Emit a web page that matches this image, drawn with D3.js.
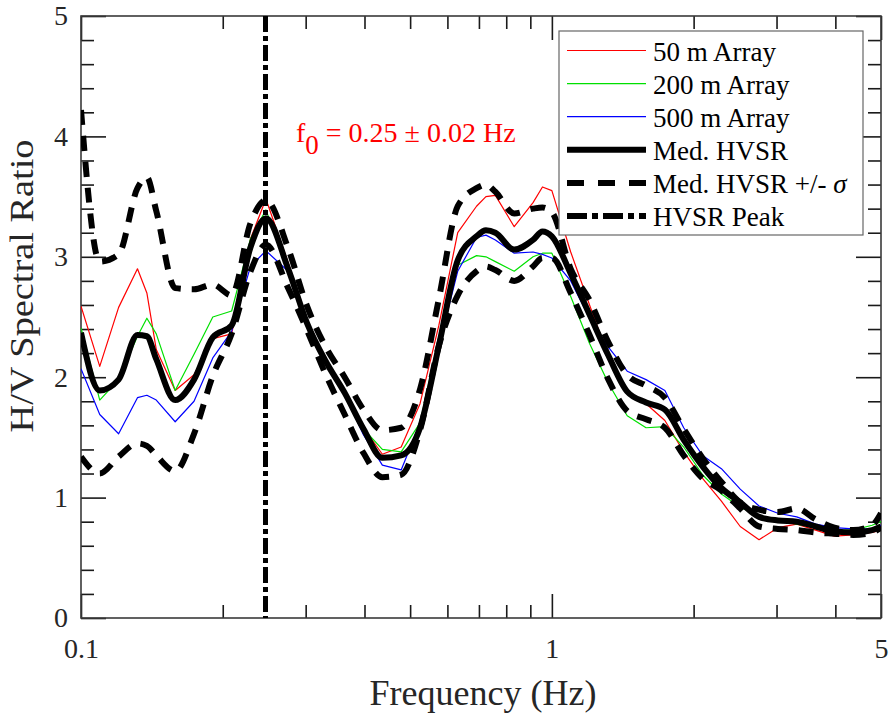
<!DOCTYPE html>
<html><head><meta charset="utf-8">
<script src="https://cdn.jsdelivr.net/npm/d3@7"></script>
<style>body{margin:0;background:#fff}svg{display:block}text{font-family:"Liberation Serif","Times New Roman",serif}</style>
</head><body><svg id="c" width="889" height="713"></svg>
<script>
// ---- data ----
const freq = [0.1,0.1096,0.1202,0.1318,0.1380,0.1445,0.1585,0.1738,0.1905,0.2089,0.2291,0.247,0.2754,0.3020,0.3311,0.3631,0.3981,0.4365,0.4786,0.5248,0.5754,0.6310,0.6918,0.7244,0.7586,0.8318,0.9120,0.955,1.0,1.0965,1.2023,1.3183,1.4454,1.5849,1.7378,1.9055,2.0893,2.2909,2.5119,2.7542,3.0200,3.3113,3.6308,3.9811,4.3652,4.7863,5.0];
const array50  = [2.59,2.09,2.58,2.90,2.70,2.23,1.89,2.02,2.32,2.36,3.15,3.48,2.95,2.48,2.14,1.87,1.58,1.36,1.42,1.78,2.43,3.20,3.42,3.50,3.51,3.25,3.45,3.58,3.55,3.04,2.60,2.17,1.88,1.78,1.64,1.38,1.16,0.97,0.76,0.65,0.75,0.78,0.73,0.68,0.69,0.71,0.73];
const array200 = [2.41,1.81,1.98,2.34,2.49,2.36,1.89,2.19,2.50,2.55,3.15,3.39,2.90,2.47,2.12,1.90,1.57,1.40,1.38,1.62,2.33,2.93,3.01,3.00,2.96,2.88,3.00,3.03,3.03,2.67,2.28,1.95,1.68,1.58,1.59,1.42,1.19,1.03,0.92,0.85,0.81,0.78,0.75,0.73,0.73,0.77,0.80];
const array500 = [2.07,1.69,1.53,1.83,1.85,1.81,1.63,1.80,2.16,2.38,2.92,3.05,2.88,2.45,2.12,1.86,1.52,1.27,1.23,1.62,2.26,2.88,3.16,3.18,3.14,3.03,3.04,3.02,2.99,2.80,2.49,2.25,2.05,1.98,1.89,1.58,1.35,1.24,1.07,0.93,0.87,0.84,0.78,0.75,0.74,0.74,0.77];
const medHVSR  = [2.37,1.89,1.98,2.35,2.34,2.15,1.81,1.98,2.33,2.43,3.08,3.32,2.90,2.45,2.13,1.87,1.57,1.33,1.35,1.58,2.26,2.97,3.17,3.22,3.20,3.06,3.14,3.21,3.17,2.86,2.52,2.18,1.88,1.79,1.73,1.48,1.26,1.08,0.96,0.84,0.81,0.80,0.76,0.72,0.71,0.73,0.76];
const medPlus  = [4.22,2.96,3.02,3.57,3.66,3.38,2.74,2.73,2.77,2.68,3.28,3.47,3.07,2.59,2.25,2.00,1.73,1.56,1.58,1.90,2.65,3.42,3.57,3.60,3.54,3.36,3.40,3.41,3.37,2.90,2.64,2.29,2.02,1.93,1.83,1.57,1.33,1.13,0.96,0.90,0.88,0.91,0.82,0.75,0.73,0.77,0.87];
const medMinus = [1.34,1.20,1.34,1.45,1.43,1.35,1.22,1.53,2.01,2.36,2.88,3.10,2.74,2.39,2.02,1.69,1.37,1.17,1.19,1.56,2.26,2.68,2.88,2.92,2.89,2.80,2.92,2.99,2.99,2.70,2.35,1.98,1.72,1.65,1.58,1.35,1.16,1.06,0.91,0.76,0.74,0.73,0.71,0.70,0.69,0.71,0.75];
const peakFreq = 0.2465;
const xTickLabels = [0.1, 1, 5];
const xMinorTicks = [0.2,0.3,0.4,0.5,0.6,0.7,0.8,0.9,2,3,4];
const yTickLabels = [0,1,2,3,4,5];
const yMinorTicks = [0.2,0.4,0.6,0.8,1.2,1.4,1.6,1.8,2.2,2.4,2.6,2.8,3.2,3.4,3.6,3.8,4.2,4.4,4.6,4.8];
const legendLabels = ["50 m Array","200 m Array","500 m Array","Med. HVSR","Med. HVSR +/- ","HVSR Peak"];

// ---- layout ----
const L=81, R=881, T=16, B=618;
const svg = d3.select("#c");
const x = d3.scaleLog().domain([0.1,5]).range([L,R]);
const y = d3.scaleLinear().domain([0,5]).range([B,T]);
const tickCol = "#262626";

function axisG(axis, tx, ty){
  const g = svg.append("g").attr("transform",`translate(${tx},${ty})`).call(axis);
  g.select(".domain").remove();
  g.selectAll("line").attr("stroke","#1a1a1a").attr("stroke-width",1.6);
  g.selectAll("text").attr("font-size",28).attr("fill",tickCol).attr("font-family","Liberation Serif");
  return g;
}
// left
axisG(d3.axisLeft(y).tickValues(yTickLabels).tickSize(-25).tickPadding(13).tickFormat(d3.format("d")), L, 0);
axisG(d3.axisLeft(y).tickValues(yMinorTicks).tickSize(-13).tickFormat(""), L, 0);
// right
axisG(d3.axisRight(y).tickValues(yTickLabels).tickSize(-25).tickFormat(""), R, 0);
axisG(d3.axisRight(y).tickValues(yMinorTicks).tickSize(-13).tickFormat(""), R, 0);
// bottom
axisG(d3.axisBottom(x).tickValues(xTickLabels).tickSize(-24).tickPadding(20).tickFormat(d=>String(d)), 0, B);
axisG(d3.axisBottom(x).tickValues(xMinorTicks).tickSize(-13).tickFormat(""), 0, B);
// top
axisG(d3.axisTop(x).tickValues(xTickLabels).tickSize(-24).tickFormat(""), 0, T);
axisG(d3.axisTop(x).tickValues(xMinorTicks).tickSize(-13).tickFormat(""), 0, T);

// frame
svg.append("rect").attr("x",L).attr("y",T).attr("width",R-L).attr("height",B-T)
  .attr("fill","none").attr("stroke","#3a3a3a").attr("stroke-width",1.6);

// axis titles
svg.append("text").attr("x",483).attr("y",705).attr("text-anchor","middle")
  .attr("font-size",36).attr("fill",tickCol).text("Frequency (Hz)");
svg.append("text").attr("transform","translate(33,286) rotate(-90)").attr("text-anchor","middle")
  .attr("font-size",34).attr("fill",tickCol).attr("textLength",293).attr("lengthAdjust","spacingAndGlyphs")
  .text("H/V Spectral Ratio");

// clip
svg.append("clipPath").attr("id","clip").append("rect").attr("x",L).attr("y",T).attr("width",R-L).attr("height",B-T);
const plot = svg.append("g").attr("clip-path","url(#clip)");

const thin = d3.line().x((d,i)=>x(freq[i])).y(d=>y(d));
const smooth = d3.line().x((d,i)=>x(freq[i])).y(d=>y(d)).curve(d3.curveMonotoneX);

const styles = [
  {data:array50, gen:thin, color:"#ff0000", w:1.2, dash:null},
  {data:array200, gen:thin, color:"#00e000", w:1.2, dash:null},
  {data:array500, gen:thin, color:"#0000ff", w:1.2, dash:null},
  {data:medHVSR, gen:smooth, color:"#000", w:6, dash:null},
  {data:medPlus, gen:smooth, color:"#000", w:6, dash:"15,11"},
  {data:medMinus, gen:smooth, color:"#000", w:6, dash:"15,11"}
];
styles.forEach(s=>{
  plot.append("path").attr("d",s.gen(s.data)).attr("fill","none")
    .attr("stroke",s.color).attr("stroke-width",s.w)
    .attr("stroke-dasharray",s.dash).attr("stroke-linejoin","round");
});
// HVSR peak line
plot.append("line").attr("x1",x(peakFreq)).attr("x2",x(peakFreq)).attr("y1",T).attr("y2",B)
  .attr("stroke","#000").attr("stroke-width",5).attr("stroke-dasharray","16,4,5,4");

// annotation
const ann = svg.append("text").attr("x",296).attr("y",142).attr("font-size",28).attr("fill","#ff0000");
ann.append("tspan").text("f");
ann.append("tspan").attr("dy",12).attr("font-size",27).text("0");
ann.append("tspan").attr("dy",-12).text(" = 0.25 \u00B1 0.02 Hz");

// legend
const lg = svg.append("g");
lg.append("rect").attr("x",559).attr("y",31).attr("width",304).attr("height",204)
  .attr("fill","#fff").attr("stroke","#666").attr("stroke-width",1.2);
const legStyles = [
  {color:"#ff0000", w:1.2, dash:null},
  {color:"#00e000", w:1.2, dash:null},
  {color:"#0000ff", w:1.2, dash:null},
  {color:"#000", w:6, dash:null},
  {color:"#000", w:6, dash:"17,14"},
  {color:"#000", w:6, dash:"20,5,6,5"}
];
legendLabels.forEach((lab,i)=>{
  const yy = 50.5 + i*33.1;
  lg.append("line").attr("x1",567).attr("x2",646).attr("y1",yy).attr("y2",yy)
    .attr("stroke",legStyles[i].color).attr("stroke-width",legStyles[i].w).attr("stroke-dasharray",legStyles[i].dash);
  const t = lg.append("text").attr("x",653).attr("y",yy+10).attr("font-size",27).attr("fill","#000").text(lab);
  if(i===4) t.append("tspan").attr("font-style","italic").text("\u03C3");
});
</script></body></html>
